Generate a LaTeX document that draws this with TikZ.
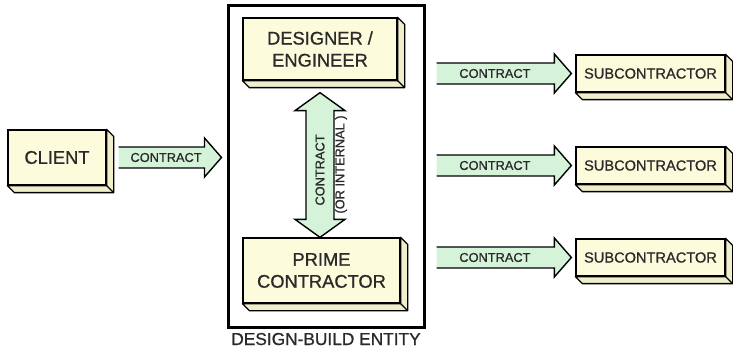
\documentclass[tikz,border=0pt]{standalone}
\usepackage{fontspec}
\setmainfont{Liberation Sans}
\newfontfamily\medfont[FakeBold=0.9]{Liberation Sans}
\usetikzlibrary{calc}
\definecolor{cream}{HTML}{FCFBDC}
\definecolor{creamside}{HTML}{F1EFCB}
\definecolor{arrowgreen}{HTML}{D5F3D9}
\definecolor{txt}{HTML}{2A2A2A}
\newcommand\slabsides[1]{%
  \draw[slabline,fill=creamside] (#1.north east) -- ++(7,-7) -- ($(#1.south east)+(7,-7)$)
    -- ($(#1.south west)+(7,-7)$) -- (#1.south west) -- (#1.south east) -- cycle;
  \draw[slabline] (#1.south east) -- ++(7,-7);}
\newcommand\hblock[2]{%
  \fill[arrowgreen] ($(#1 |- #2)+(0,10.5)$) -- ($(#2)+(-17,10.5)$) -- ($(#2)+(-17,19.5)$) -- (#2)
    -- ($(#2)+(-17,-19.5)$) -- ($(#2)+(-17,-10.5)$) -- ($(#1 |- #2)+(0,-10.5)$) -- cycle;
  \draw[arrline] ($(#1 |- #2)+(0,10.5)$) -- ($(#2)+(-17,10.5)$) -- ($(#2)+(-17,19.5)$) -- (#2)
    -- ($(#2)+(-17,-19.5)$) -- ($(#2)+(-17,-10.5)$) -- ($(#1 |- #2)+(0,-10.5)$);}
\begin{document}
\begin{tikzpicture}[x=1pt,y=1pt,
  slabline/.style={line width=1.3pt,line join=round,draw=black},
  slab/.style={draw=black,line width=1.3pt,fill=cream,inner sep=0pt,align=center,
    text=txt,font=\medfont\fontsize{18.3}{22}\selectfont},
  subslab/.style={slab,minimum width=149pt,minimum height=37pt,font=\medfont\fontsize{14.6}{17}\selectfont},
  arrline/.style={line width=1.4pt,line join=miter,draw=black},
  arrtext/.style={text=txt,font=\medfont\fontsize{12.8}{15}\selectfont,inner sep=0pt}]
\useasboundingbox (0,0) rectangle (733,348);
% entity frame
\node[draw=black,line width=3pt,minimum width=196pt,minimum height=321pt,inner sep=0pt] (big) at (326,181.5) {};
\node[anchor=base,text=txt,font=\medfont\fontsize{17.3}{20}\selectfont,inner sep=0pt] (biglabel) at ($(big.south)+(0,-16.5)$) {DESIGN-BUILD ENTITY};
% boxes
\node[slab,minimum width=98pt,minimum height=55pt] (client) at (57,190.5) {CLIENT};
\node[slab,minimum width=154pt,minimum height=62pt] (designer) at (320,299) {DESIGNER /\\ENGINEER};
\node[slab,minimum width=157pt,minimum height=65pt] (prime) at (321.5,77.5) {PRIME\\CONTRACTOR};
\node[subslab] (sub1) at (650.5,274.5) {SUBCONTRACTOR};
\node[subslab] (sub2) at (650.5,182.5) {SUBCONTRACTOR};
\node[subslab] (sub3) at (650.5,90.5) {SUBCONTRACTOR};
\slabsides{client}
\slabsides{designer}
\slabsides{prime}
\slabsides{sub1}
\slabsides{sub2}
\slabsides{sub3}
% horizontal arrows
\coordinate (ca1) at ($(client.east)+(12,0)$);
\coordinate (ca2) at ($(client.east -| big.west)+(-5,0)$);
\hblock{ca1}{ca2}
\node[arrtext] (cl1) at ($(ca1)!0.5!(ca2)+(-4,0)$) {CONTRACT};
\foreach \s in {1,2,3}{
  \coordinate (sa\s) at ($(sub\s.west -| big.east)+(11,0)$);
  \coordinate (sb\s) at ($(sub\s.west)+(-4,0)$);
  \hblock{sa\s}{sb\s}
  \node[arrtext] (sl\s) at ($(sa\s)!0.5!(sb\s)+(-9,0)$) {CONTRACT};
}
% vertical double arrow
\coordinate (vt) at ($(designer.south)+(0,-12)$);
\coordinate (vb) at (designer.south |- prime.north);
\draw[arrline,fill=arrowgreen] (vt) -- ($(vt)+(25,-18)$) -- ($(vt)+(14,-18)$) -- ($(vb)+(14,18)$)
  -- ($(vb)+(25,18)$) -- (vb) -- ($(vb)+(-25,18)$) -- ($(vb)+(-14,18)$) -- ($(vt)+(-14,-18)$)
  -- ($(vt)+(-25,-18)$) -- cycle;
\node[arrtext,rotate=90] (vl1) at (320,178) {CONTRACT};
\node[arrtext,rotate=90] (vl2) at (341,183.5) {(OR INTERNAL )};
\end{tikzpicture}
\end{document}
